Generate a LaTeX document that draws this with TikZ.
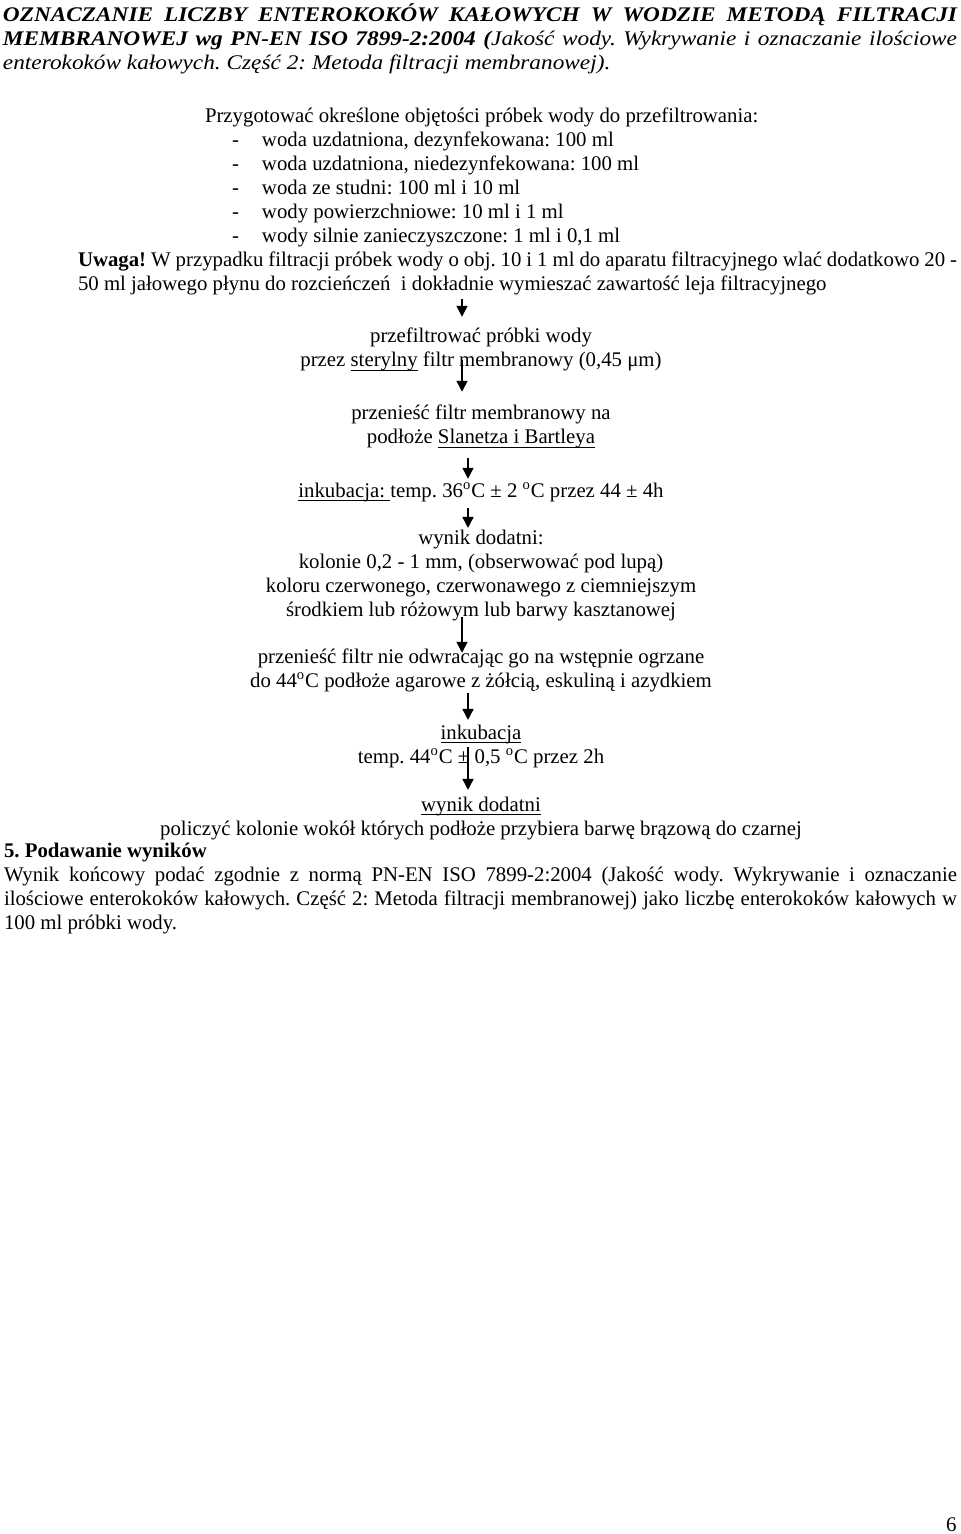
\documentclass[tikz,border=0pt]{standalone}
\usepackage{fontspec}
\setmainfont{Liberation Serif}
\newfontfamily\titlefont{Liberation Serif}[FakeStretch=1.12]
\usepackage{tikz}
\usetikzlibrary{arrows.meta,positioning,calc}
\tikzset{
  txt/.style={inner sep=0pt, outer sep=0pt, align=center, anchor=base},
  para/.style={inner sep=0pt, outer sep=0pt, align=left, anchor=base west},
  arr/.style={-{Triangle[length=5.5pt, width=5.5pt]}, line width=0.75pt}
}
\newcommand{\fs}{\fontsize{10.4pt}{12pt}\selectfont\frenchspacing}
\newcommand{\jline}[2]{\makebox[#1][s]{#2}}
\newcommand{\dg}{\textsuperscript{o}}
\newcommand{\li}{\hspace*{13.5pt}\makebox[15pt][l]{-}}
\newcommand{\ul}[1]{\setbox0\hbox{#1}\rlap{\rule[-2pt]{\wd0}{0.5pt}}\box0\relax}

\begin{document}
\begin{tikzpicture}[x=0.5pt, y=-0.5pt, font=\fs]
  \useasboundingbox (0,0) rectangle (960,1534);
  \coordinate (colA) at (462,0);
  \coordinate (colB) at (468,0);

  \node[para] (title) at (3,70) {\jline{477pt}{\titlefont\bfseries\itshape OZNACZANIE LICZBY ENTEROKOKÓW KAŁOWYCH W WODZIE METODĄ FILTRACJI}\\
    \jline{477pt}{\titlefont\itshape\textbf{MEMBRANOWEJ wg PN-EN ISO 7899-2:2004 (}Jakość wody. Wykrywanie i oznaczanie ilościowe}\\
    \titlefont\itshape enterokoków kałowych. Część 2: Metoda filtracji membranowej).};

  \node[para] (prep) at (205,243) {Przygotować określone objętości próbek wody do przefiltrowania:\\
    \li woda uzdatniona, dezynfekowana: 100 ml\\
    \li woda uzdatniona, niedezynfekowana: 100 ml\\
    \li woda ze studni: 100 ml i 10 ml\\
    \li wody powierzchniowe: 10 ml i 1 ml\\
    \li wody silnie zanieczyszczone: 1 ml i 0,1 ml};
  \node[para] (uwaga) at (78,291) {\jline{439.5pt}{\textbf{Uwaga!} W przypadku filtracji próbek wody o obj. 10 i 1 ml do aparatu filtracyjnego wlać dodatkowo 20 -}\\
    50 ml jałowego płynu do rozcieńczeń \ i dokładnie wymieszać zawartość leja filtracyjnego};

  \node[txt] (filt) at (481,367) {przefiltrować próbki wody\\przez \ul{sterylny} filtr membranowy (0,45 μm)};
  \node[txt] (move) at (481,444) {przenieść filtr membranowy na\\podłoże \ul{Slanetza i Bartleya}};
  \node[txt] (inc) at (481,497) {\ul{inkubacja: }temp. 36\dg C ± 2 \dg C przez 44 ± 4h};
  \node[txt] (res) at (481,616) {wynik dodatni:\\kolonie 0,2 - 1 mm, (obserwować pod lupą)\\koloru czerwonego, czerwonawego z ciemniejszym\\środkiem lub różowym lub barwy kasztanowej};
  \node[txt] (move2) at (481,687) {przenieść filtr nie odwracając go na wstępnie ogrzane\\do 44\dg C podłoże agarowe z żółcią, eskuliną i azydkiem};
  \node[txt] (inc2) at (481,763) {\ul{inkubacja}\\temp. 44\dg C ± 0,5 \dg C przez 2h};
  \node[txt] (res2) at (481,835) {\ul{wynik dodatni}\\policzyć kolonie wokół których podłoże przybiera barwę brązową do czarnej};

  \node[para] (final) at (4,929) {\textbf{5. Podawanie wyników}\\
    \jline{476.5pt}{Wynik końcowy podać zgodnie z normą PN-EN ISO 7899-2:2004 (Jakość wody. Wykrywanie i oznaczanie}\\
    \jline{476.5pt}{ilościowe enterokoków kałowych. Część 2: Metoda filtracji membranowej) jako liczbę enterokoków kałowych w}\\
    100 ml próbki wody.};
  \node[inner sep=0pt, anchor=base east] (pnum) at (957,1531) {6};

  \draw[arr, shorten <=1.7pt, shorten >=5.8pt] (colA |- uwaga.south) -- (colA |- filt.north);
  \draw[arr, shorten <=-5.7pt, shorten >=6.8pt] (colA |- filt.south) -- (colA |- move.north);
  \draw[arr, shorten <=4.7pt, shorten >=1.9pt] (colB |- move.south) -- (colB |- inc.north);
  \draw[arr, shorten <=3.2pt, shorten >=0.8pt] (colB |- inc.south) -- (colB |- res.north);
  \draw[arr, shorten <=-1.7pt, shorten >=-2.2pt] (colA |- res.south) -- (colA |- move2.north);
  \draw[arr, shorten <=0.7pt, shorten >=2.3pt] (colB |- move2.south) -- (colB |- inc2.north);
  \draw[arr, shorten <=-10.2pt, shorten >=3.3pt] (colB |- inc2.south) -- (colB |- res2.north);
\end{tikzpicture}
\end{document}
